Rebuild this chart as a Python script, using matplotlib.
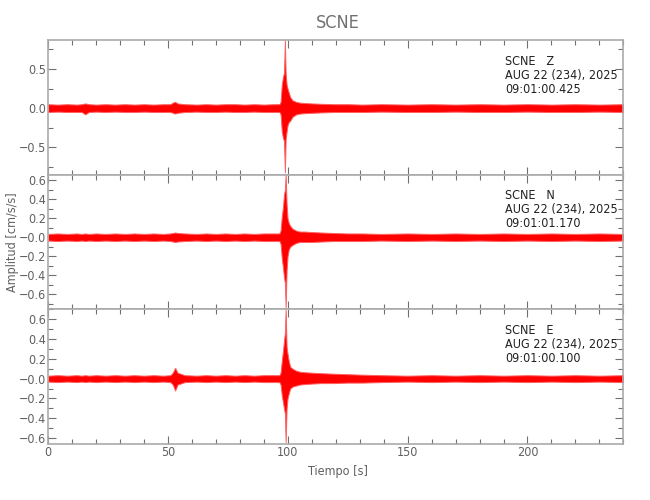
#!/usr/bin/env python3
"""Three-component accelerogram plot for station SCNE (envelope of each trace)."""

import matplotlib
matplotlib.use("Agg")
import matplotlib.pyplot as plt
from matplotlib.ticker import MultipleLocator, FixedLocator

plt.rcParams["font.family"] = ["DejaVu Sans"]
plt.rcParams["font.stretch"] = "condensed"

t = [0, 4, 8, 12, 14, 15.5, 17, 20, 24, 28, 32, 36, 40, 44, 48, 51, 52, 53, 54,
     57, 62, 66, 70, 74, 78, 82, 86, 90, 94, 96.5, 97.0, 97.5, 98.0, 98.4,
     98.8, 99.1, 99.5, 99.9, 100.4, 101.0, 102, 103.5, 105, 107, 110, 114, 119,
     125, 131, 139, 150, 160, 170, 180, 190, 200, 210, 220, 230, 240]

# Z component envelope [cm/s/s]
z_up = [0.05, 0.045, 0.05, 0.045, 0.05, 0.06, 0.05, 0.045, 0.05, 0.045, 0.05, 0.045,
        0.05, 0.045, 0.05, 0.05, 0.07, 0.08, 0.06, 0.05, 0.045, 0.05, 0.045, 0.05,
        0.05, 0.045, 0.05, 0.045, 0.05, 0.05, 0.08, 0.30, 0.40, 0.45, 0.87, 0.45,
        0.30, 0.25, 0.20, 0.14, 0.10, 0.08, 0.07, 0.065, 0.06, 0.055, 0.05, 0.05,
        0.045, 0.05, 0.045, 0.05, 0.045, 0.05, 0.045, 0.05, 0.045, 0.05, 0.045, 0.05]
z_lo = [-0.05, -0.045, -0.05, -0.05, -0.05, -0.08, -0.05, -0.045, -0.05, -0.045, -0.05,
        -0.05, -0.045, -0.05, -0.05, -0.05, -0.06, -0.07, -0.06, -0.05, -0.045, -0.05,
        -0.05, -0.045, -0.05, -0.05, -0.045, -0.05, -0.05, -0.05, -0.08, -0.30, -0.38,
        -0.42, -0.82, -0.40, -0.30, -0.22, -0.18, -0.16, -0.11, -0.08, -0.07, -0.065,
        -0.06, -0.055, -0.05, -0.05, -0.05, -0.045, -0.05, -0.05, -0.045, -0.05, -0.05,
        -0.045, -0.05, -0.05, -0.045, -0.05]

# N component envelope [cm/s/s]
n_up = [0.035, 0.04, 0.035, 0.04, 0.035, 0.04, 0.035, 0.04, 0.035, 0.04, 0.035, 0.04,
        0.035, 0.04, 0.035, 0.04, 0.045, 0.05, 0.045, 0.04, 0.035, 0.04, 0.035, 0.04,
        0.035, 0.04, 0.035, 0.04, 0.04, 0.04, 0.07, 0.22, 0.32, 0.45, 0.50, 0.66,
        0.35, 0.20, 0.15, 0.12, 0.09, 0.07, 0.06, 0.06, 0.055, 0.05, 0.045, 0.04,
        0.04, 0.035, 0.04, 0.035, 0.04, 0.035, 0.04, 0.035, 0.04, 0.035, 0.04, 0.035]
n_lo = [-0.035, -0.04, -0.035, -0.04, -0.035, -0.04, -0.035, -0.04, -0.035, -0.04,
        -0.035, -0.04, -0.035, -0.04, -0.035, -0.04, -0.045, -0.05, -0.045, -0.04,
        -0.035, -0.04, -0.035, -0.04, -0.035, -0.04, -0.035, -0.04, -0.04, -0.04,
        -0.07, -0.22, -0.32, -0.42, -0.48, -0.74, -0.35, -0.20, -0.13, -0.10, -0.08,
        -0.06, -0.05, -0.05, -0.05, -0.045, -0.04, -0.04, -0.04, -0.035, -0.04, -0.035,
        -0.04, -0.035, -0.04, -0.035, -0.04, -0.035, -0.04, -0.035]

# E component envelope [cm/s/s]
e_up = [0.03, 0.035, 0.03, 0.035, 0.03, 0.035, 0.03, 0.035, 0.03, 0.035, 0.03, 0.035,
        0.03, 0.035, 0.03, 0.035, 0.06, 0.11, 0.06, 0.035, 0.03, 0.035, 0.03, 0.035,
        0.03, 0.035, 0.03, 0.035, 0.035, 0.035, 0.06, 0.18, 0.28, 0.38, 0.46, 0.70,
        0.32, 0.25, 0.18, 0.12, 0.10, 0.08, 0.07, 0.065, 0.06, 0.055, 0.05, 0.045,
        0.04, 0.035, 0.03, 0.035, 0.03, 0.035, 0.03, 0.035, 0.03, 0.035, 0.03, 0.035]
e_lo = [-0.03, -0.035, -0.03, -0.035, -0.03, -0.035, -0.03, -0.035, -0.03, -0.035,
        -0.03, -0.035, -0.03, -0.035, -0.03, -0.035, -0.06, -0.12, -0.06, -0.035,
        -0.03, -0.035, -0.03, -0.035, -0.03, -0.035, -0.03, -0.035, -0.035, -0.035,
        -0.06, -0.17, -0.24, -0.30, -0.35, -0.64, -0.30, -0.20, -0.15, -0.10, -0.08,
        -0.07, -0.06, -0.055, -0.05, -0.045, -0.045, -0.04, -0.04, -0.035, -0.03,
        -0.035, -0.03, -0.035, -0.03, -0.035, -0.03, -0.035, -0.03, -0.035]

components = ["Z", "N", "E"]
start_times = ["09:01:00.425", "09:01:01.170", "09:01:00.100"]
uppers = [z_up, n_up, e_up]
lowers = [z_lo, n_lo, e_lo]
ylims = [(-0.85, 0.87), (-0.76, 0.66), (-0.66, 0.70)]
ytick_vals = [[-0.5, 0.0, 0.5],
              [-0.6, -0.4, -0.2, 0.0, 0.2, 0.4, 0.6],
              [-0.6, -0.4, -0.2, 0.0, 0.2, 0.4, 0.6]]
ytick_labels = [["\u22120.5", "0.0", "0.5"],
                ["\u22120.6", "\u22120.4", "\u22120.2", "\u22120.0", "0.2", "0.4", "0.6"],
                ["\u22120.6", "\u22120.4", "\u22120.2", "\u22120.0", "0.2", "0.4", "0.6"]]
yminor = [0.25, 0.1, 0.1]
xticks = [0, 50, 100, 150, 200]

AXIS_GRAY = "#aaaaaa"
TEXT_GRAY = "#606060"

fig, axes = plt.subplots(3, 1, figsize=(6.5, 5.0), dpi=100, sharex=True)
fig.subplots_adjust(left=0.074, right=0.959, top=0.92, bottom=0.112, hspace=0)

for i, ax in enumerate(axes):
    ax.fill_between(t, lowers[i], uppers[i], color="red", edgecolor="#ff6060",
                    linewidth=0.7, zorder=2)
    ax.set_xlim(0, 240)
    ax.set_ylim(*ylims[i])
    ax.yaxis.set_major_locator(FixedLocator(ytick_vals[i]))
    ax.set_yticklabels(ytick_labels[i])
    ax.yaxis.set_minor_locator(MultipleLocator(yminor[i]))
    ax.xaxis.set_major_locator(FixedLocator(xticks))
    ax.xaxis.set_minor_locator(MultipleLocator(10))
    ax.tick_params(which="both", direction="in", top=True, right=True,
                   color="#707070", width=0.8, labelcolor=TEXT_GRAY, labelsize=9,
                   pad=1.5)
    ax.tick_params(which="major", length=6)
    ax.tick_params(which="minor", length=3.5)
    for sp in ax.spines.values():
        sp.set_color(AXIS_GRAY)
        sp.set_linewidth(1.2)
    ax.text(190.8, ylims[i][1] - 0.11 * (ylims[i][1] - ylims[i][0]),
            f"SCNE   {components[i]}\nAUG 22 (234), 2025\n{start_times[i]}",
            fontsize=9, color="#202020", va="top", ha="left", linespacing=1.1)

axes[-1].set_xticklabels([str(v) for v in xticks])

fig.text(0.52, 0.953, "SCNE", ha="center", va="center", fontsize=13, color="#707070")
fig.text(0.52, 0.058, "Tiempo [s]", ha="center", va="center", fontsize=9, color=TEXT_GRAY)
fig.text(0.019, 0.516, "Amplitud [cm/s/s]", ha="center", va="center", rotation=90,
         fontsize=9, color=TEXT_GRAY)

fig.savefig("out.png", dpi=100)
